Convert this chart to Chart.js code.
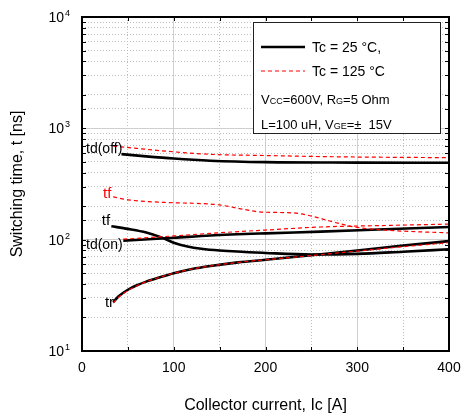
<!DOCTYPE html>
<html>
<head>
<meta charset="utf-8">
<script src="https://cdn.jsdelivr.net/npm/chart.js@4.4.1/dist/chart.umd.min.js"></script>
<style>
  html, body { margin: 0; padding: 0; background: #fff; }
</style>
</head>
<body>
<canvas id="switchChart" width="463" height="419"></canvas>
<script>
// values (Ic in A, t in ns)
const tdOffCurrent25 = [43, 70, 100, 140, 200, 300, 400];
const tdOffTime25 = [587, 560, 535, 512, 497, 492, 490];
const tdOffCurrent125 = [34, 60, 100, 140, 200, 270, 400];
const tdOffTime125 = [693, 660, 615, 584, 570, 556, 545];

const tfCurrent25 = [32, 50, 70, 85, 100, 115, 130, 150, 200, 250, 300, 350, 400];
const tfTime25 = [132, 125, 116, 106, 94, 87, 83, 80, 76, 73.5, 74.5, 78, 82];
const tfCurrent125 = [34, 50, 90, 130, 150, 175, 195, 230, 250, 270, 295, 330, 400];
const tfTime125 = [242, 228, 216, 211, 205, 188, 177, 174, 163, 147, 131, 122, 115];

const tdOnCurrent = [45, 100, 140, 200, 260, 330, 400];
const tdOnTime25 = [98, 104, 109, 114, 118, 124, 130];
const tdOnTime125 = [101, 108, 114, 122, 130, 134, 138];

const trCurrent = [34, 40, 50, 60, 70, 85, 100, 120, 140, 170, 200, 250, 300, 350, 400];
const trTime25 = [27.5, 31, 35.5, 39, 42, 46, 50, 54.5, 58, 62.5, 66, 72.5, 80, 88.5, 97];
const trTime125 = [27, 30.5, 35, 38.5, 42, 46, 50, 54.5, 58, 62.5, 66, 72, 79, 86.5, 94];

// curve names written next to the curves
const curveLabels = ['td(off)', 'tf', 'tf', 'td(on)', 'tr'];
const labelCurrent = [4.4, 22.9, 21.5, 4.4, 25];
const labelTime = [652, 257, 149, 89, 27];
const labelColors = ['#000000', '#ff0000', '#000000', '#000000', '#000000'];

const xTickLabels = ['0', '100', '200', '300', '400'];

const FONT = "'Liberation Sans', Arial, sans-serif";

function toPoints(xs, ys) {
    return xs.map((x, i) => ({ x: x, y: ys[i] }));
}

function isDecade(v) {
    const l = Math.log10(v);
    return Math.abs(l - Math.round(l)) < 1e-6;
}

function redSeries(xs, ys) {
    return {
        data: toPoints(xs, ys),
        borderColor: '#ff0000',
        borderWidth: 1.2,
        borderDash: [4, 3],
        pointRadius: 0,
        cubicInterpolationMode: 'monotone',
        fill: false
    };
}

function blackSeries(xs, ys) {
    return {
        data: toPoints(xs, ys),
        borderColor: '#000000',
        borderWidth: 2.6,
        pointRadius: 0,
        cubicInterpolationMode: 'monotone',
        fill: false
    };
}

// draws several runs of text with different sizes on one baseline
function drawRuns(ctx, x, y, runs) {
    ctx.textBaseline = 'alphabetic';
    ctx.textAlign = 'left';
    runs.forEach(r => {
        ctx.font = r[1] + 'px ' + FONT;
        ctx.fillText(r[0], x, y);
        x += ctx.measureText(r[0]).width;
    });
}

const decorPlugin = {
    id: 'decor',
    afterDatasetsDraw(chart) {
        const ctx = chart.ctx;
        const xs = chart.scales.x;
        const ys = chart.scales.y;
        const area = chart.chartArea;

        ctx.save();
        // curve names
        curveLabels.forEach((t, i) => {
            ctx.fillStyle = labelColors[i];
            ctx.font = (t.length > 2 ? 14 : 15) + 'px ' + FONT;
            ctx.textAlign = 'left';
            ctx.textBaseline = 'middle';
            ctx.fillText(t, xs.getPixelForValue(labelCurrent[i]), ys.getPixelForValue(labelTime[i]));
        });

        // frame
        ctx.strokeStyle = '#000';
        ctx.lineWidth = 2;
        ctx.strokeRect(area.left, area.top, area.right - area.left, area.bottom - area.top);

        // small inner ticks
        ctx.lineWidth = 1;
        ys.ticks.forEach(t => {
            const py = Math.round(ys.getPixelForValue(t.value)) + 0.5;
            ctx.beginPath();
            ctx.moveTo(area.left, py); ctx.lineTo(area.left + 4, py);
            ctx.moveTo(area.right, py); ctx.lineTo(area.right - 4, py);
            ctx.stroke();
        });
        xs.ticks.forEach(t => {
            const px = Math.round(xs.getPixelForValue(t.value)) + 0.5;
            ctx.beginPath();
            ctx.moveTo(px, area.bottom); ctx.lineTo(px, area.bottom - 4);
            ctx.moveTo(px, area.top); ctx.lineTo(px, area.top + 4);
            ctx.stroke();
        });

        // y tick labels as 10^n
        ctx.fillStyle = '#000';
        ys.ticks.filter(t => isDecade(t.value)).forEach(t => {
            const py = ys.getPixelForValue(t.value);
            ctx.font = '14px ' + FONT;
            ctx.textAlign = 'right';
            ctx.textBaseline = 'middle';
            ctx.fillText('10', 64, py + 1);
            ctx.font = '9px ' + FONT;
            ctx.textAlign = 'left';
            ctx.textBaseline = 'alphabetic';
            ctx.fillText(String(Math.round(Math.log10(t.value))), 65, py - 1);
        });

        // legend box
        const bx = 253.5, by = 22.5, bw = 187, bh = 111;
        ctx.fillStyle = '#fff';
        ctx.fillRect(bx, by, bw, bh);
        ctx.strokeStyle = '#222';
        ctx.lineWidth = 1;
        ctx.strokeRect(bx, by, bw, bh);

        ctx.strokeStyle = '#000';
        ctx.lineWidth = 2.6;
        ctx.beginPath();
        ctx.moveTo(261, 47); ctx.lineTo(305, 47);
        ctx.stroke();

        ctx.strokeStyle = '#ff0000';
        ctx.lineWidth = 1.2;
        ctx.setLineDash([4, 3]);
        ctx.beginPath();
        ctx.moveTo(261, 71); ctx.lineTo(305, 71);
        ctx.stroke();
        ctx.setLineDash([]);

        ctx.fillStyle = '#000';
        drawRuns(ctx, 312, 52, [['Tc = 25 °C,', 14]]);
        drawRuns(ctx, 312, 76, [['Tc = 125 °C', 14]]);
        drawRuns(ctx, 261, 104, [['V', 13], ['CC', 9], ['=600V, R', 13], ['G', 9], ['=5 Ohm', 13]]);
        drawRuns(ctx, 261, 129, [['L=100 uH, V', 13], ['GE', 9], ['=\u00b1  15V', 13]]);
        ctx.restore();
    }
};

const canvas = document.getElementById('switchChart');
const chart = new Chart(canvas.getContext('2d'), {
    type: 'line',
    data: {
        datasets: [
            redSeries(tdOffCurrent125, tdOffTime125),
            redSeries(tfCurrent125, tfTime125),
            redSeries(tdOnCurrent, tdOnTime125),
            redSeries(trCurrent, trTime125),
            blackSeries(tdOffCurrent25, tdOffTime25),
            blackSeries(tfCurrent25, tfTime25),
            blackSeries(tdOnCurrent, tdOnTime25),
            blackSeries(trCurrent, trTime25)
        ]
    },
    options: {
        responsive: false,
        animation: false,
        layout: { padding: { top: 17, right: 14, left: 0, bottom: 0 } },
        plugins: {
            legend: { display: false },
            tooltip: { enabled: false }
        },
        scales: {
            x: {
                type: 'linear',
                min: 0,
                max: 400,
                afterFit: function (scale) {
                    scale.height = 68;
                    scale.paddingLeft = 0;
                    scale.paddingRight = 0;
                },
                ticks: {
                    stepSize: 50,
                    autoSkip: false,
                    maxRotation: 0,
                    padding: 9,
                    color: '#000',
                    font: { family: FONT, size: 14 },
                    callback: function (value) {
                        const s = String(value);
                        return xTickLabels.includes(s) ? s : '';
                    }
                },
                grid: {
                    drawTicks: false,
                    lineWidth: 1,
                    color: c => (c.tick && c.tick.value % 100 === 0) ? '#cfcfcf' : '#bdbdbd'
                },
                border: {
                    display: false,
                    dash: c => (c.tick && c.tick.value % 100 === 0) ? [] : [1, 2]
                },
                title: {
                    display: true,
                    text: 'Collector current, Ic [A]',
                    color: '#000',
                    font: { family: FONT, size: 16 },
                    padding: { top: 0, bottom: 4 }
                }
            },
            y: {
                type: 'logarithmic',
                min: 10,
                max: 10000,
                afterFit: function (scale) {
                    scale.width = 82;
                    scale.paddingTop = 0;
                    scale.paddingBottom = 0;
                },
                ticks: { display: false },
                grid: {
                    drawTicks: false,
                    lineWidth: 1,
                    color: c => (c.tick && isDecade(c.tick.value)) ? '#cfcfcf' : '#bdbdbd'
                },
                border: {
                    display: false,
                    dash: c => (c.tick && isDecade(c.tick.value)) ? [] : [1, 2]
                },
                title: {
                    display: true,
                    text: 'Switching time, t [ns]',
                    color: '#000',
                    font: { family: FONT, size: 16 },
                    padding: { top: 8, bottom: 0 }
                }
            }
        }
    },
    plugins: [decorPlugin]
});
</script>
</body>
</html>
